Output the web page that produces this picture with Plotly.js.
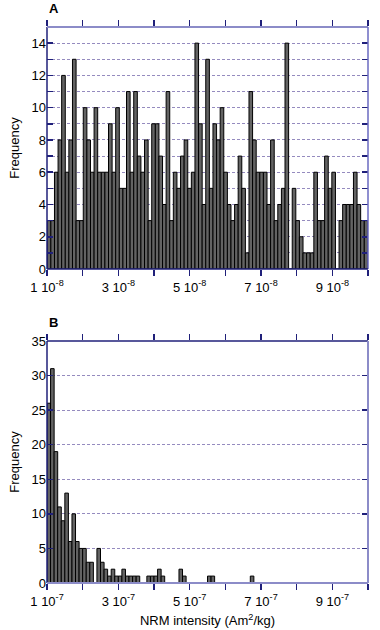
<!DOCTYPE html>
<html>
<head>
<meta charset="utf-8">
<script src="https://cdn.plot.ly/plotly-3.0.1.min.js"></script>
<style>
html,body{margin:0;padding:0;background:#fff;}
#chart{width:380px;height:630px;}
</style>
</head>
<body>
<div id="chart"></div>
<script>
// Panel A: NRM intensity histogram, 1e-8 .. 1e-7 Am2/kg
const binStartA = 9.063e-9;
const binWidthA = 1.01e-9;
const countsA = [1,
  3,3,6,8,12,6,8,13,3,3,
  10,8,6,10,6,6,6,9,6,10,
  5,5,11,6,11,7,6,8,3,9,
  9,7,4,11,3,6,5,7,8,5,
  6,14,9,4,13,5,9,8,10,6,
  4,3,4,7,5,1,11,8,6,6,
  6,4,8,3,4,5,14,0,5,3,
  2,1,1,1,6,3,3,7,5,6,
  0,3,4,4,4,6,4,3,3];

// Panel B: NRM intensity histogram, 1e-7 .. 1e-6 Am2/kg
const binStartB = 1e-7;
const binWidthB = 1e-8;
const countsB = [26,31,19,11,9,13,6,10,6,5,
  5,3,3,0,5,3,2,1,2,1,
  1,2,1,1,1,1,0,0,1,1,
  1,2,1,0,0,0,0,2,1,0,
  0,0,0,0,0,1,1,0,0,0,
  0,0,0,0,0,0,0,1];

const xRangeA = [1e-8, 1e-7];
const xTicksA = [1e-8,3e-8,5e-8,7e-8,9e-8];
const xTickTextA = ['1 10<sup>-8</sup>','3 10<sup>-8</sup>','5 10<sup>-8</sup>','7 10<sup>-8</sup>','9 10<sup>-8</sup>'];
const xRangeB = [1e-7, 1e-6];
const xTicksB = [1e-7,3e-7,5e-7,7e-7,9e-7];
const xTickTextB = ['1 10<sup>-7</sup>','3 10<sup>-7</sup>','5 10<sup>-7</sup>','7 10<sup>-7</sup>','9 10<sup>-7</sup>'];
const yTicksA = [0,2,4,6,8,10,12,14];
const yTicksB = [0,5,10,15,20,25,30,35];

const xsA = countsA.map((c,i)=>binStartA + (i+0.5)*binWidthA);
const xsB = countsB.map((c,i)=>binStartB + (i+0.5)*binWidthB);

const barStyle = {color:'#636363', line:{color:'#000', width:1}};
const traces = [
  {type:'bar', x:xsA, y:countsA, width:binWidthA, marker:barStyle, xaxis:'x', yaxis:'y', hoverinfo:'skip'},
  {type:'bar', x:xsB, y:countsB, width:binWidthB, marker:barStyle, xaxis:'x2', yaxis:'y2', hoverinfo:'skip'}
];

const navy = '#20207a';
const light = '#8c8cc8';
const font = {family:'Liberation Sans, Arial, sans-serif', size:13, color:'#000'};
const gridc = '#958bbf';

function xax(range, ticks, text, anchor){
  return {range:range, tickvals:ticks, ticktext:text,
    ticks:'outside', ticklen:6, tickcolor:navy, tickwidth:1.5, mirror:'ticks',
    minor:{tick0:range[0], dtick:(range[1]-range[0])/9, ticks:'outside', ticklen:6, tickcolor:navy, tickwidth:1.5, showgrid:false},
    showline:false, showgrid:false, zeroline:false, anchor:anchor, tickfont:font};
}
function yax(range, ticks, minorDtick, domain, anchor){
  return {range:range, tickvals:ticks, ticktext:ticks.map(String), domain:domain, anchor:anchor,
    ticks:'inside', ticklen:6, tickcolor:navy, tickwidth:1.5, mirror:'ticks',
    minor: minorDtick ? {tick0:0, dtick:minorDtick, ticks:'inside', ticklen:6, tickcolor:navy, tickwidth:1.5,
      showgrid:true, gridcolor:gridc, gridwidth:1, griddash:'3px,2px'} : undefined,
    showline:false, showgrid:true, gridcolor:gridc, gridwidth:1, griddash:'3px,2px',
    zeroline:false, tickfont:font,
    title:{text:'Frequency', font:font, standoff:8}};
}

const layout = {
  width:380, height:630,
  margin:{l:47, r:12, t:27, b:47},
  paper_bgcolor:'#fff', plot_bgcolor:'#fff',
  showlegend:false, bargap:0,
  font:font,
  xaxis: xax(xRangeA, xTicksA, xTickTextA, 'y'),
  yaxis: yax([0,15], yTicksA, 1, [0.5647,1], 'x'),
  xaxis2: Object.assign(xax(xRangeB, xTicksB, xTickTextB, 'y2'), {title:{text:'NRM intensity (Am<sup>2</sup>/kg)', font:font, standoff:8}}),
  yaxis2: yax([0,35], yTicksB, 0, [0,0.4353], 'x2'),
  shapes:[
    // panel A frame
    {type:'line', xref:'x domain', yref:'y domain', x0:0, x1:0, y0:0, y1:1, line:{color:navy, width:1.5}},
    {type:'line', xref:'x domain', yref:'y domain', x0:0, x1:1, y0:1, y1:1, line:{color:light, width:2}},
    {type:'line', xref:'x domain', yref:'y domain', x0:1, x1:1, y0:0, y1:1, line:{color:'#6a6ac0', width:1.5}},
    {type:'line', xref:'x domain', yref:'y domain', x0:0, x1:1, y0:0, y1:0, line:{color:navy, width:1.5}},
    // panel B frame
    {type:'line', xref:'x2 domain', yref:'y2 domain', x0:0, x1:0, y0:0, y1:1, line:{color:navy, width:1.5}},
    {type:'line', xref:'x2 domain', yref:'y2 domain', x0:0, x1:1, y0:1, y1:1, line:{color:navy, width:1.5}},
    {type:'line', xref:'x2 domain', yref:'y2 domain', x0:1, x1:1, y0:0, y1:1, line:{color:light, width:2}},
    {type:'line', xref:'x2 domain', yref:'y2 domain', x0:0, x1:1, y0:0, y1:0, line:{color:light, width:2}}
  ],
  annotations:[
    {text:'<b>A</b>', xref:'paper', yref:'paper', x:0, y:1.016, xanchor:'left', yanchor:'bottom', showarrow:false, font:{family:font.family, size:13, color:'#000'}},
    {text:'<b>B</b>', xref:'paper', yref:'paper', x:0, y:0.452, xanchor:'left', yanchor:'bottom', showarrow:false, font:{family:font.family, size:13, color:'#000'}}
  ]
};

Plotly.newPlot('chart', traces, layout, {displayModeBar:false, staticPlot:true});
</script>
</body>
</html>
